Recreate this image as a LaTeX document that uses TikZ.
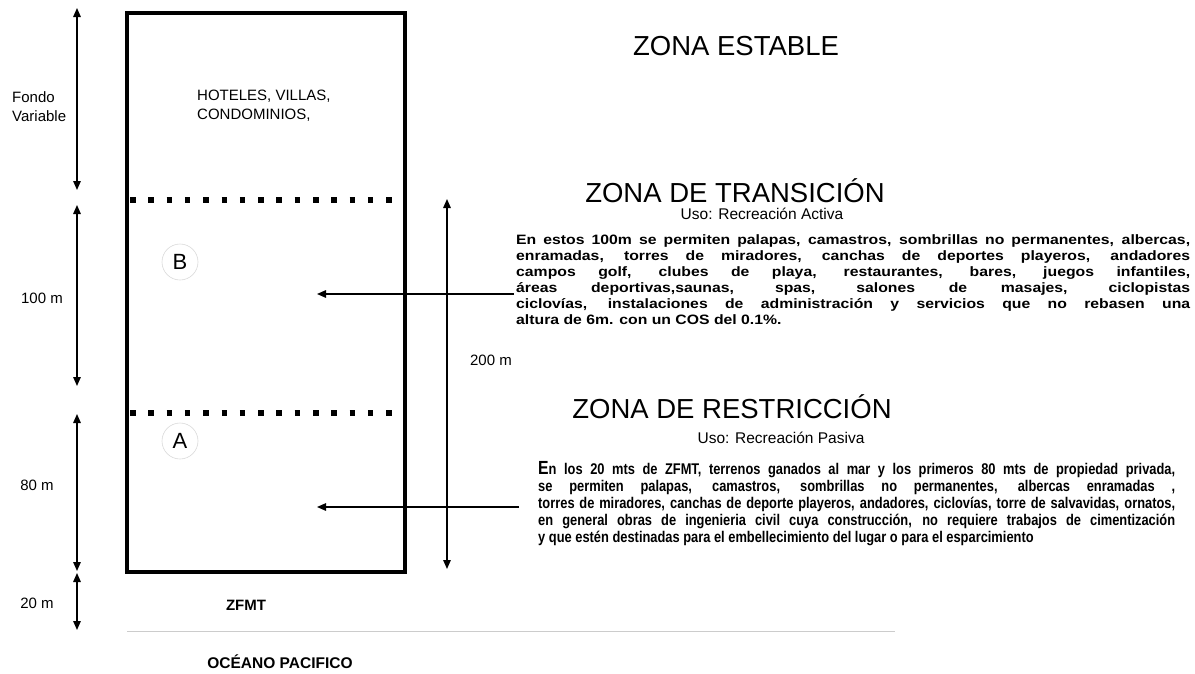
\documentclass[tikz,border=0pt]{standalone}
\usepackage{fontspec}
\setmainfont{Liberation Sans}
\newfontfamily\wideboldfont[FakeStretch=1.16]{Liberation Sans}
\newfontfamily\narrowboldfont[FakeStretch=0.83]{Liberation Sans}
\usetikzlibrary{arrows.meta}

\begin{document}
\begin{tikzpicture}[x=1pt, y=-1pt,
    dimarrow/.style={line width=1.4pt, {Triangle[length=9pt,width=7.5pt]}-{Triangle[length=9pt,width=7.5pt]}},
    pointer/.style={line width=1.4pt, -{Triangle[length=9pt,width=7.5pt]}},
    lbl/.style={font=\fontsize{15}{19}\selectfont, inner sep=0pt},
    heading/.style={font=\fontsize{27.5}{30}\selectfont, inner sep=0pt},
    usolbl/.style={font=\fontsize{15.5}{18}\selectfont, inner sep=0pt},
    zonemark/.style={circle, draw=gray!30, line width=0.6pt, minimum size=36pt, inner sep=0pt, font=\fontsize{22}{22}\selectfont},
    boundary/.style={line width=6pt, dash pattern=on 5.5pt off 12.8pt}]
      \useasboundingbox (0,0) rectangle (1195,673);

      \draw[line width=3.5pt] (127,13) rectangle (405,572);
      \draw[boundary] (130,200) -- (404,200);
      \draw[boundary] (130,413) -- (404,413);
      \draw[gray!40, line width=1pt] (127,631) -- (895,631);

      \foreach \n/\a/\b in {fondo/8/190, cien/205/386, ochenta/414/571, veinte/573/630} {
          \coordinate (\n top) at (77,\a);
          \coordinate (\n bot) at (77,\b);
          \draw[dimarrow] (\n top) -- (\n bot);
        }
      \coordinate (total top) at (447,199);
      \coordinate (total bot) at (447,569);
      \draw[dimarrow] (total top) -- (total bot);

      \node[lbl, align=left, anchor=west] (fondo) at (12,107) {Fondo\\Variable};
      \node[lbl] (cien) at (42,298) {100 m};
      \node[lbl] (ochenta) at (37,485) {80 m};
      \node[lbl] (veinte) at (37,603) {20 m};
      \node[lbl] (total) at (491,360) {200 m};
      \node[lbl, align=left, anchor=west] (usos) at (197,106) {HOTELES, VILLAS,\\CONDOMINIOS,};
      \node[zonemark] (B) at (180,262) {B};
      \node[zonemark] (A) at (180,441) {A};
      \node[lbl, font=\fontsize{15}{18}\selectfont\bfseries] (zfmt) at (246,605) {ZFMT};
      \node[lbl, font=\fontsize{15.5}{18}\selectfont\bfseries] (oceano) at (280,662) {OCÉANO PACIFICO};

      \node[heading] (estable) at (736,46) {ZONA ESTABLE};
      \node[heading] (transicion) at (735,191) {ZONA DE TRANSICIÓN};
      \node[usolbl] (activa) at (762,214) {Uso: Recreación Activa};
      \node[heading] (restriccion) at (732,407) {ZONA DE RESTRICCIÓN};
      \node[usolbl] (pasiva) at (781,438) {Uso: Recreación Pasiva};

      \node[inner sep=0pt, anchor=north west, text width=674pt, align=justify,
        font=\wideboldfont\bfseries\fontsize{13.6}{16}\selectfont] (textB) at (516,234) {%
        En estos 100m se permiten palapas, camastros, sombrillas no permanentes, albercas,\linebreak
        enramadas, torres de miradores, canchas de deportes playeros, andadores\linebreak
        campos golf, clubes de playa, restaurantes, bares, juegos infantiles,\linebreak
        áreas deportivas,saunas, spas, salones de masajes, ciclopistas\linebreak
        ciclovías, instalaciones de administración y servicios que no rebasen una\linebreak
        altura de 6m. con un COS del 0.1\%.};
      \node[inner sep=0pt, anchor=north west, text width=637pt, align=justify,
        font=\narrowboldfont\bfseries\fontsize{15.5}{17}\selectfont] (textA) at (538,461) {%
        {\fontsize{19}{17}\selectfont E}n los 20 mts de ZFMT,  terrenos ganados al mar y  los primeros 80 mts de propiedad privada,\linebreak
        se permiten palapas, camastros,  sombrillas no permanentes, albercas  enramadas ,\linebreak
        torres de miradores, canchas de deporte playeros, andadores, ciclovías, torre de salvavidas, ornatos,\linebreak
        en general  obras de ingenieria civil cuya construcción, no requiere trabajos de cimentización\linebreak
        y que estén destinadas  para el embellecimiento del lugar o para el esparcimiento};

      \coordinate (tipB) at (317,294);
      \coordinate (tailB) at (514,294);
      \coordinate (tipA) at (317,507);
      \coordinate (tailA) at (519,507);
      \draw[pointer] (tailB) -- (tipB);
      \draw[pointer] (tailA) -- (tipA);
    \end{tikzpicture}
\end{document}
